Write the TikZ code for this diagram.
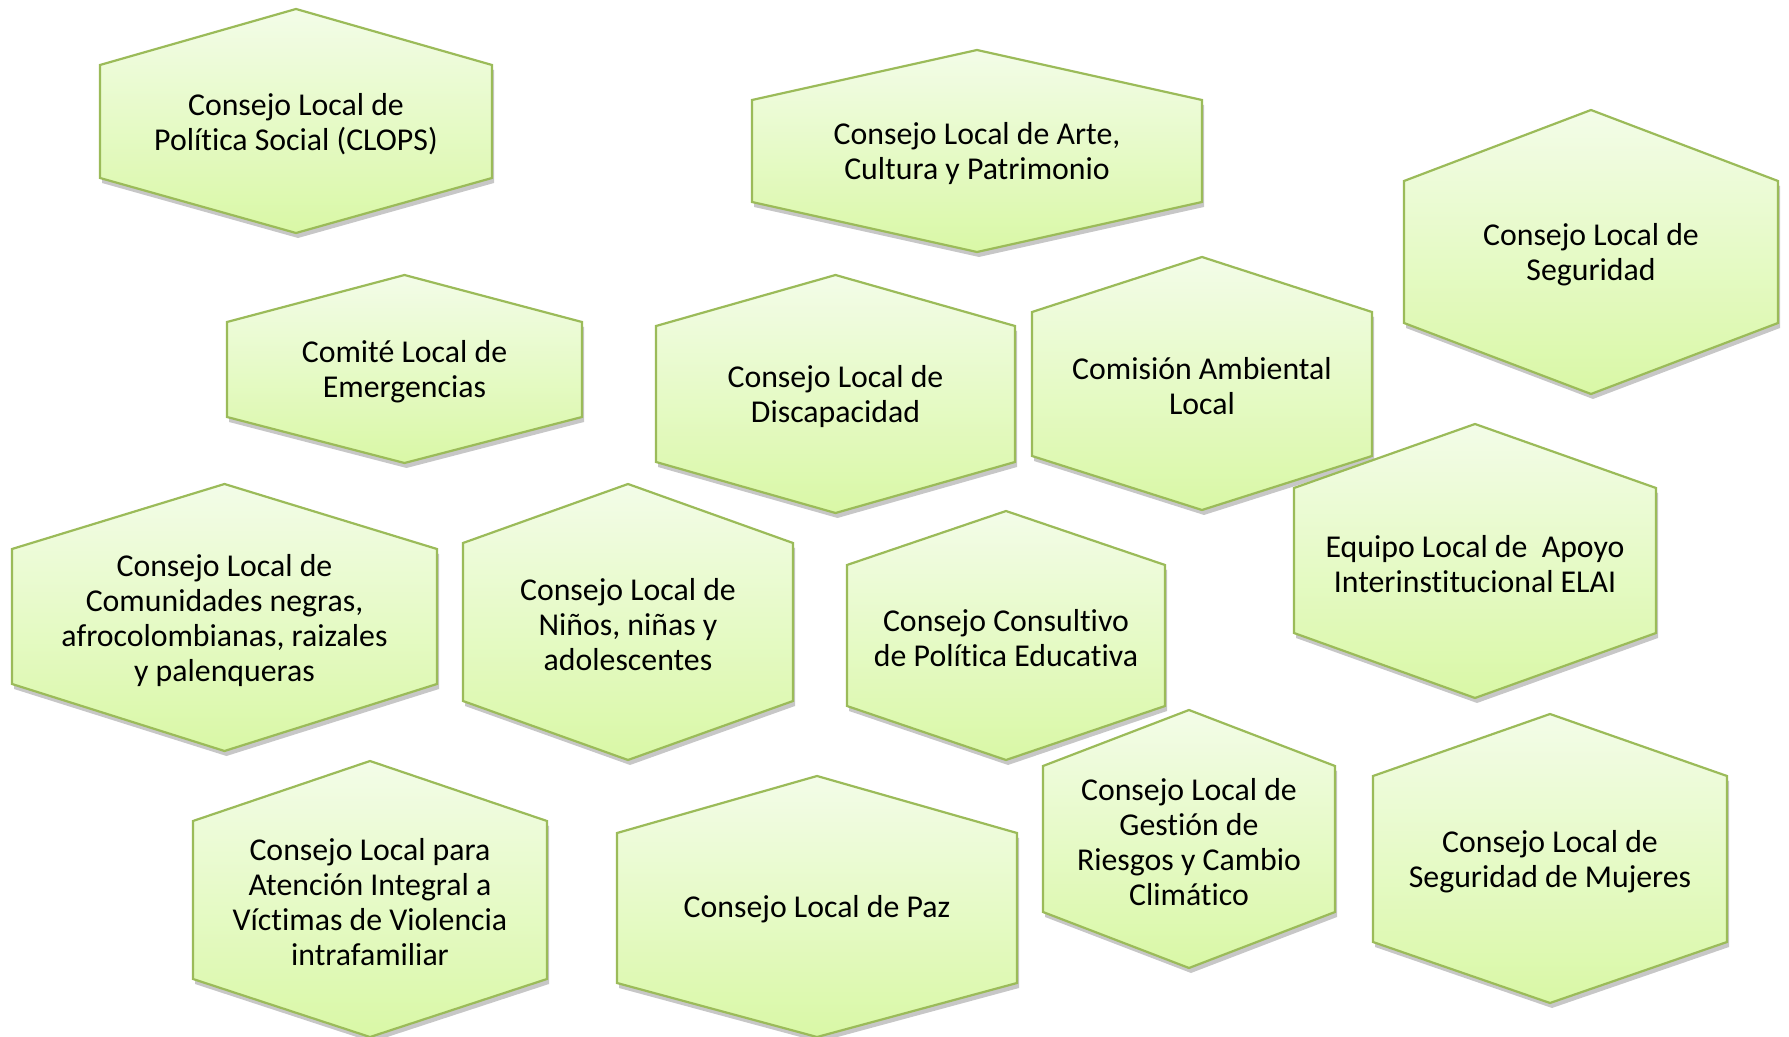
\documentclass[tikz,border=0pt]{standalone}
\usepackage{fontspec}
\setmainfont[Ligatures=NoCommon]{Carlito}
\usetikzlibrary{shadows,calc}

\definecolor{hexline}{RGB}{155,187,89}
\definecolor{hextop}{RGB}{243,252,232}
\definecolor{hexbottom}{RGB}{217,248,166}

\tikzset{
  hexshape/.style={draw=hexline, line width=1.1pt, top color=hextop, bottom color=hexbottom,
    drop shadow={shadow xshift=1pt, shadow yshift=-2.5pt, fill=black, opacity=0.22}},
  hexlabel/.style={align=center, inner sep=0pt, font=\fontsize{15.9}{17.5}\selectfont}
}

% #1 name, #2 left, #3 right, #4 top, #5 upper corners, #6 lower corners, #7 bottom, #8 text
\newcommand{\hexnode}[8]{%
  \path[hexshape] ({(#2+#3)/2},#4) -- (#3,#5) -- (#3,#6) -- ({(#2+#3)/2},#7)
    -- (#2,#6) -- (#2,#5) -- cycle;
  \node[hexlabel] (#1) at ({(#2+#3)/2},{(#4+#7)/2+3}) {#8};
}

\begin{document}
\begin{tikzpicture}[x=0.5pt, y=-0.5pt]

  \useasboundingbox (0,0) rectangle (1789,1037);

  % Top row
  \hexnode{clops}{100}{492}{9}{65}{178}{233}{Consejo Local de\\Política Social (CLOPS)}
  \hexnode{arte}{752}{1202}{50}{100}{202}{252}{Consejo Local de Arte,\\Cultura y Patrimonio}
  \hexnode{seguridad}{1404}{1778}{110}{181}{323}{394}{Consejo Local de\\Seguridad}

  % Second row
  \hexnode{comite}{227}{582}{275}{322}{417}{463}{Comité Local de\\Emergencias}
  \hexnode{discap}{656}{1015}{275}{326}{462}{513}{Consejo Local de\\Discapacidad}
  \hexnode{ambiental}{1032}{1372}{257}{312}{456}{510}{Comisión Ambiental\\Local}
  \hexnode{elai}{1294}{1656}{424}{488}{633}{698}{Equipo Local de~~Apoyo\\Interinstitucional ELAI}

  % Third row
  \hexnode{comunidades}{12}{437}{484}{549}{684}{751}{Consejo Local de\\Comunidades negras,\\afrocolombianas, raizales\\y palenqueras}
  \hexnode{ninos}{463}{793}{484}{543}{701}{760}{Consejo Local de\\Niños, niñas y\\adolescentes}
  \hexnode{consultivo}{847}{1165}{511}{565}{706}{760}{Consejo Consultivo\\de Política Educativa}

  % Bottom row
  \hexnode{gestion}{1043}{1335}{710}{766}{912}{968}{Consejo Local de\\Gestión de\\Riesgos y Cambio\\Climático}
  \hexnode{mujeres}{1373}{1727}{714}{776}{942}{1003}{Consejo Local de\\Seguridad de Mujeres}
  \hexnode{victimas}{193}{547}{761}{821}{979}{1037}{Consejo Local para\\Atención Integral a\\Víctimas de Violencia\\intrafamiliar}
  \hexnode{paz}{617}{1017}{776}{833}{983}{1037}{Consejo Local de Paz}

\end{tikzpicture}
\end{document}
